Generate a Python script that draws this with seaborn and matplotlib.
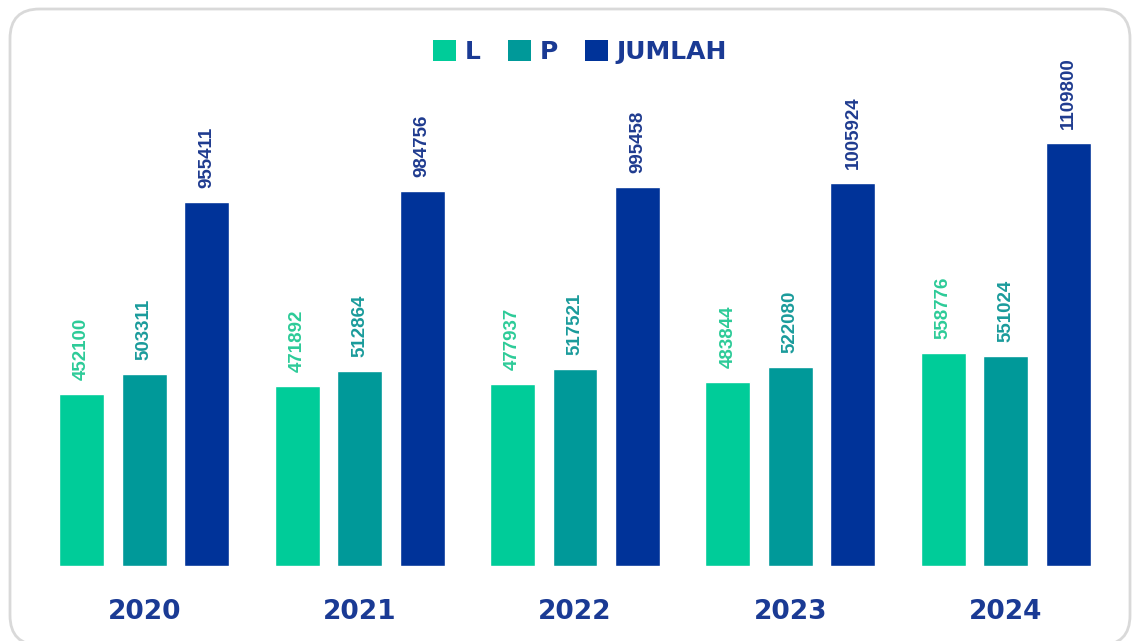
import matplotlib
matplotlib.use("Agg")
import matplotlib.pyplot as plt
import seaborn as sns
import pandas as pd
from matplotlib.patches import FancyBboxPatch, Patch

years = ["2020", "2021", "2022", "2023", "2024"]
series = ["L", "P", "JUMLAH"]
L_vals = [452100, 471892, 477937, 483844, 558776]
P_vals = [503311, 512864, 517521, 522080, 551024]
J_vals = [955411, 984756, 995458, 1005924, 1109800]

bar_colors = ["#00CC99", "#009999", "#003399"]
label_colors = ["#2DCB98", "#1A9B9B", "#1F3B8F"]
text_blue = "#1A3A94"

df = pd.DataFrame({
    "year": years * 3,
    "series": ["L"] * 5 + ["P"] * 5 + ["JUMLAH"] * 5,
    "value": L_vals + P_vals + J_vals,
})

sns.set_theme(style="white")
plt.rcParams["font.family"] = ["DejaVu Sans"]

W, H = 1138, 641
fig = plt.figure(figsize=(W / 100, H / 100), dpi=100)
fig.patch.set_facecolor("white")

# rounded frame
frame = FancyBboxPatch((10 / W, -4 / H), 1120 / W, (H - 9 + 4) / H,
                       boxstyle="round,pad=0,rounding_size=0.026",
                       transform=fig.transFigure, facecolor="none",
                       edgecolor="#D9D9D9", linewidth=2, zorder=-1,
                       mutation_aspect=W / H)
fig.patches.append(frame)

ax = fig.add_axes([30 / W, (H - 566) / H, 1090 / W, 486 / H])
ax.set_facecolor("none")
sns.barplot(data=df, x="year", y="value", hue="series", order=years,
            hue_order=series, palette=bar_colors, width=0.87, gap=0.28,
            saturation=1, ax=ax, legend=False, errorbar=None)

for cont, c in zip(ax.containers, label_colors):
    ax.bar_label(cont, labels=[f"{int(v)}" for v in cont.datavalues],
                 rotation=90, padding=10, color=c, fontsize=13.5,
                 fontweight="bold", family=["Liberation Sans", "DejaVu Sans"])

ax.set_xlim(-0.53, 4.53)
ax.set_ylim(0, 1275000)
ax.set_xlabel("")
ax.set_ylabel("")
ax.set_yticks([])
ax.tick_params(axis="x", length=0, pad=24)
for lab in ax.get_xticklabels():
    lab.set_fontsize(19)
    lab.set_fontweight("bold")
    lab.set_color(text_blue)
sns.despine(ax=ax, left=True, bottom=True)

handles = [Patch(facecolor=c, edgecolor="none") for c in bar_colors]
leg = fig.legend(handles, series, loc="center", bbox_to_anchor=(580 / W, 1 - 52 / H),
                 ncol=3, frameon=False, handlelength=0.9, handleheight=0.9,
                 handletextpad=0.35, columnspacing=1.1,
                 prop={"size": 18, "weight": "bold"})
for t in leg.get_texts():
    t.set_color(text_blue)

fig.savefig("out.png", dpi=100)
